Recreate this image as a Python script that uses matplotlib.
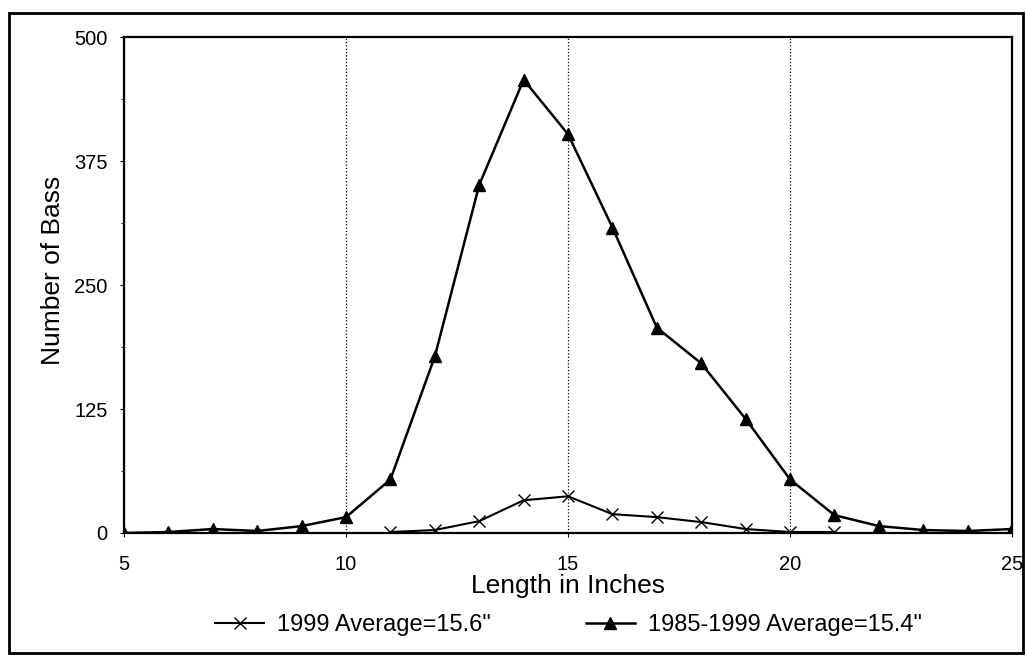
import numpy as np
import matplotlib
matplotlib.use("Agg")
import matplotlib.pyplot as plt
from matplotlib.patches import Rectangle
from matplotlib.ticker import MultipleLocator

plt.rcParams['font.family'] = ['Liberation Sans', 'DejaVu Sans']

# lengths in inches and bass counts
length_all = [5, 6, 7, 8, 9, 10, 11, 12, 13, 14, 15, 16, 17, 18, 19, 20, 21, 22, 23, 24, 25]
count_all = [0, 1, 4, 2, 7, 16, 54, 178, 351, 457, 402, 308, 207, 171, 115, 54, 18, 7, 3, 2, 4]

length_1999 = [11, 12, 13, 14, 15, 16, 17, 18, 19, 20, 21]
count_1999 = [1, 3, 12, 33, 37, 19, 16, 11, 4, 1, 1]

label_1999 = '1999 Average=15.6"'
label_all = '1985-1999 Average=15.4"'

fig = plt.figure(figsize=(10.26, 6.56), dpi=100)
ax = fig.add_axes([0.1209, 0.1875, 0.8655, 0.756])

ax.plot(length_1999, count_1999, color='black', lw=1.5, marker='x',
        markersize=9, markeredgewidth=1.0, label=label_1999, zorder=3)
ax.plot(length_all, count_all, color='black', lw=1.8, marker='^',
        markersize=8, label=label_all, zorder=3)

ax.set_xlim(5, 25)
ax.set_ylim(0, 500)
ax.set_xticks([5, 10, 15, 20, 25])
ax.set_yticks([0, 125, 250, 375, 500])
ax.yaxis.set_minor_locator(MultipleLocator(62.5))
ax.tick_params(axis='both', labelsize=14.5, direction='out', length=3, width=0.8)
ax.tick_params(axis='y', which='minor', length=2, width=0.6)
ax.tick_params(axis='x', pad=13)
ax.tick_params(axis='y', pad=9)

ax.grid(axis='x', color='black', linestyle=':', linewidth=0.9)
for s in ax.spines.values():
    s.set_linewidth(1.6)

ax.set_xlabel('Length in Inches', fontsize=19, labelpad=0)
ax.set_ylabel('Number of Bass', fontsize=19)
ax.yaxis.set_label_coords(-0.066, 0.53)

fig.legend(loc='center', bbox_to_anchor=(0.554, 0.047), ncol=2, frameon=False,
           fontsize=17, handlelength=2.1, columnspacing=4.0, handletextpad=0.55)

# outer frame around the whole chart
fig.patches.append(Rectangle((0.0088, 0.0046), 0.9885, 0.9756, transform=fig.transFigure,
                             fill=False, edgecolor='black', linewidth=2.0))

fig.savefig('out.png', dpi=100)
